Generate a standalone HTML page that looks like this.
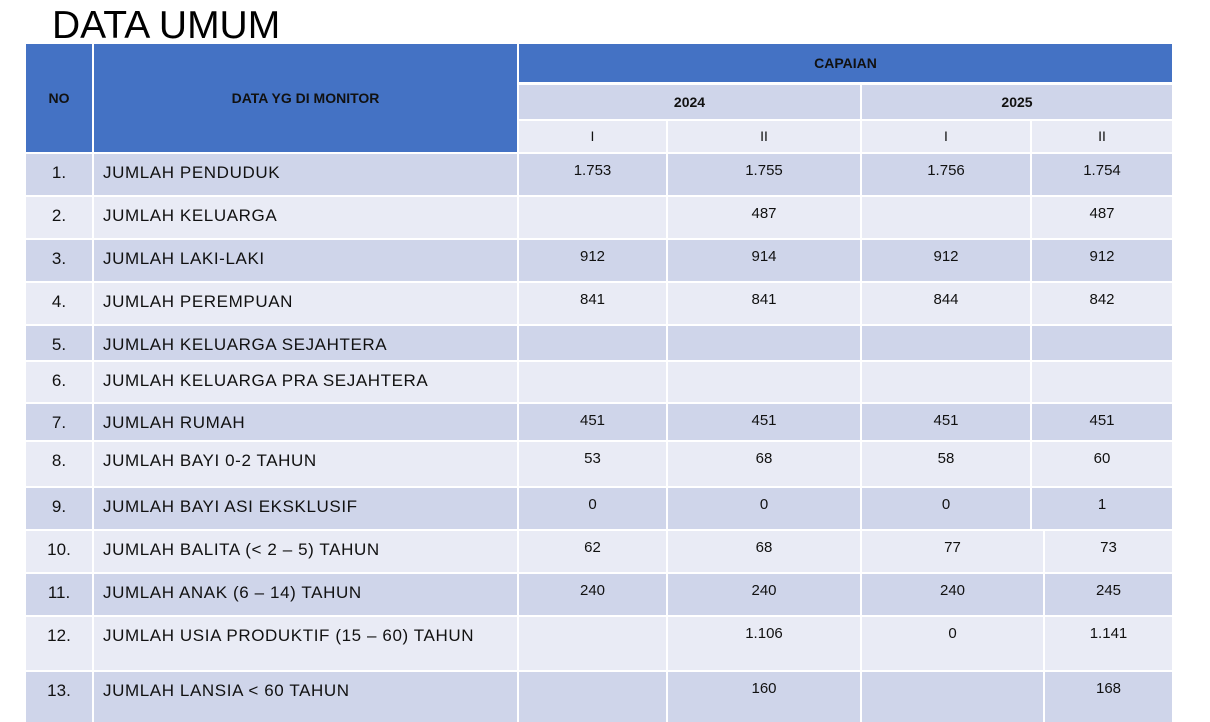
<!DOCTYPE html>
<html><head><meta charset="utf-8"><style>
body{margin:0;width:1210px;height:720px;background:#fff;position:relative;overflow:hidden;font-family:"Liberation Sans",sans-serif;}
.c{position:absolute;box-sizing:border-box;color:#111;}
.h{background:#4472c4;font-weight:bold;font-size:14px;display:flex;align-items:center;justify-content:center;color:#111;}
.a{background:#cfd5ea}.b{background:#e9ebf5}
.n{font-size:15px;text-align:center;padding-top:8px;}
.l{font-size:17px;padding-top:9px;padding-left:9px;letter-spacing:0.6px;}
.no{font-size:17px;text-align:center;padding-top:9px;}
</style></head><body>
<div class="c" style="left:52px;top:4px;font-size:39px;color:#000;">DATA UMUM</div>
<div class="c h" style="left:26px;top:44px;width:66px;height:108px;">NO</div>
<div class="c h" style="left:94px;top:44px;width:423px;height:108px;">DATA YG DI MONITOR</div>
<div class="c h" style="left:519px;top:44px;width:653px;height:38px;">CAPAIAN</div>
<div class="c a" style="left:519px;top:85px;width:341px;height:34px;font-weight:bold;font-size:14px;text-align:center;line-height:34px;">2024</div>
<div class="c a" style="left:862px;top:85px;width:310px;height:34px;font-weight:bold;font-size:14px;text-align:center;line-height:34px;">2025</div>
<div class="c b" style="left:519px;top:121px;width:147px;height:31px;text-align:center;line-height:31px;font-size:14px;">I</div>
<div class="c b" style="left:668px;top:121px;width:192px;height:31px;text-align:center;line-height:31px;font-size:14px;">II</div>
<div class="c b" style="left:862px;top:121px;width:168px;height:31px;text-align:center;line-height:31px;font-size:14px;">I</div>
<div class="c b" style="left:1032px;top:121px;width:140px;height:31px;text-align:center;line-height:31px;font-size:14px;">II</div>
<div id="rows"></div>
<script>
var rows=[
[154,195,"1.","JUMLAH PENDUDUK",["1.753","1.755","1.756","1.754"]],
[197,238,"2.","JUMLAH KELUARGA",["","487","","487"]],
[240,281,"3.","JUMLAH LAKI-LAKI",["912","914","912","912"]],
[283,324,"4.","JUMLAH PEREMPUAN",["841","841","844","842"]],
[326,360,"5.","JUMLAH KELUARGA SEJAHTERA",["","","",""]],
[362,402,"6.","JUMLAH KELUARGA PRA SEJAHTERA",["","","",""]],
[404,440,"7.","JUMLAH RUMAH",["451","451","451","451"]],
[442,486,"8.","JUMLAH BAYI 0-2 TAHUN",["53","68","58","60"]],
[488,529,"9.","JUMLAH BAYI ASI EKSKLUSIF",["0","0","0","1"]],
[531,572,"10.","JUMLAH BALITA (< 2 – 5) TAHUN",["62","68","77","73"]],
[574,615,"11.","JUMLAH ANAK (6 – 14) TAHUN",["240","240","240","245"]],
[617,670,"12.","JUMLAH USIA PRODUKTIF (15 – 60) TAHUN",["","1.106","0","1.141"]],
[672,722,"13.","JUMLAH LANSIA < 60 TAHUN",["","160","","168"]]];
var h="";
rows.forEach(function(r,i){
 var cls=i%2==0?"a":"b",t=r[0],ht=r[1]-r[0];
 var cols=i>=9?[[519,147],[668,192],[862,181],[1045,127]]:[[519,147],[668,192],[862,168],[1032,140]];
 h+='<div class="c no '+cls+'" style="left:26px;top:'+t+'px;width:66px;height:'+ht+'px">'+r[2]+'</div>';
 h+='<div class="c l '+cls+'" style="left:94px;top:'+t+'px;width:423px;height:'+ht+'px">'+r[3].replace(/</g,"&lt;")+'</div>';
 cols.forEach(function(c,j){h+='<div class="c n '+cls+'" style="left:'+c[0]+'px;top:'+t+'px;width:'+c[1]+'px;height:'+ht+'px">'+r[4][j]+'</div>';});
});
document.getElementById("rows").innerHTML=h;
</script>
</body></html>
